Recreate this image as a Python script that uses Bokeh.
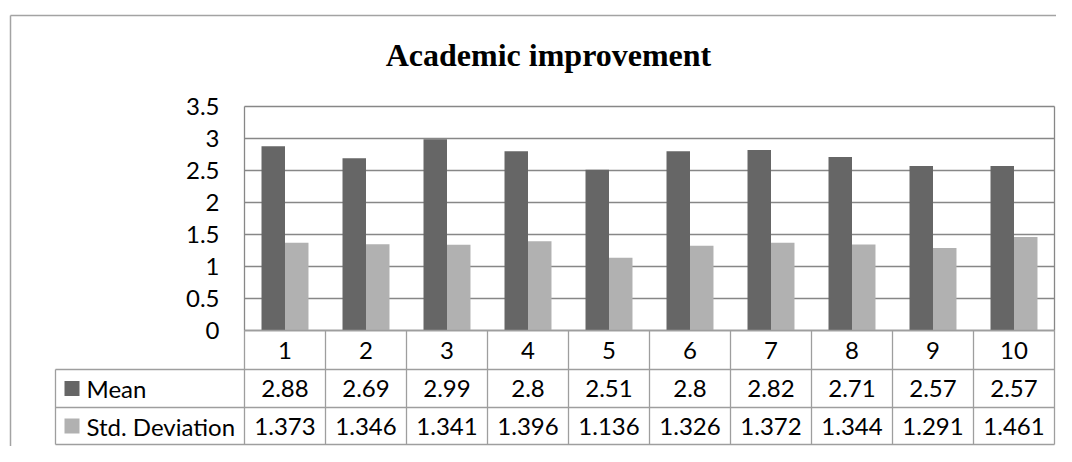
from bokeh.plotting import figure
from bokeh.models import Range1d
from bokeh.embed import file_html
from bokeh.resources import INLINE
from bokeh.core.properties import value

# ---------------- data ----------------
title_text = "Academic improvement"
categories = ["1", "2", "3", "4", "5", "6", "7", "8", "9", "10"]
series_names = ["Mean", "Std. Deviation"]
mean_vals = [2.88, 2.69, 2.99, 2.8, 2.51, 2.8, 2.82, 2.71, 2.57, 2.57]
std_vals = [1.373, 1.346, 1.341, 1.396, 1.136, 1.326, 1.372, 1.344, 1.291, 1.461]
y_ticks = [0, 0.5, 1, 1.5, 2, 2.5, 3, 3.5]
y_tick_labels = ["0", "0.5", "1", "1.5", "2", "2.5", "3", "3.5"]

# ---------------- layout (canvas pixels) ----------------
W, H = 1056, 446
PLOT_L = 244.0      # left edge of plot area
COL_W = 81.0        # category column width
ZERO_Y = 330.0      # pixel row of value 0
PLOT_T = 106.0      # pixel row of the top of the plot area
Y_MAX = 3.5
UNIT = (ZERO_Y - PLOT_T) / Y_MAX
ROW_Y = [330, 369, 407, 444]   # table row boundaries
LEG_L = 55          # left edge of legend column
BORDER_L, BORDER_T = 10, 15

def px2x(px):
    return (px - PLOT_L) / COL_W

def px2y(py):
    return (ZERO_Y - py) / UNIT

FONT = value("Lato")
FS = "24px"
GRID_C = "#878787"
TABLE_C = "#9e9e9e"
MEAN_C = "#666666"
STD_C = "#b1b1b1"

n = len(categories)

p = figure(width=W, height=H, output_backend="svg", toolbar_location=None,
           x_range=Range1d(px2x(0), px2x(W)),
           y_range=Range1d(px2y(H), px2y(0)),
           x_axis_location=None, y_axis_location=None,
           min_border=0, outline_line_color=None,
           background_fill_color="white", border_fill_color="white")
p.grid.visible = False

# outer chart border (left and top visible)
p.line([px2x(BORDER_L), px2x(BORDER_L)], [px2y(H), px2y(BORDER_T)],
       line_color="#a3a3a3", line_width=1.5)
p.line([px2x(BORDER_L), px2x(W)], [px2y(BORDER_T), px2y(BORDER_T)],
       line_color="#a3a3a3", line_width=1.5)

# horizontal gridlines of the plot area
p.segment(x0=[0] * len(y_ticks), x1=[n] * len(y_ticks), y0=y_ticks, y1=y_ticks,
          line_color=GRID_C, line_width=1.3)
# plot area left/right edges
p.segment(x0=[0, n], x1=[0, n], y0=[0, 0], y1=[Y_MAX, Y_MAX],
          line_color=GRID_C, line_width=1.3)

# bars
bw = 0.29
p.vbar(x=[i + 0.5 - bw / 2 for i in range(n)], top=mean_vals, width=bw,
       bottom=0, fill_color=MEAN_C, line_color=None)
p.vbar(x=[i + 0.5 + bw / 2 for i in range(n)], top=std_vals, width=bw,
       bottom=0, fill_color=STD_C, line_color=None)

# y tick labels
p.text(x=[px2x(219)] * len(y_ticks), y=y_ticks, text=y_tick_labels,
       text_align="right", text_baseline="middle", text_font=FONT,
       text_font_size=FS, text_color="black")

# data table lines
ty = [px2y(r) for r in ROW_Y]
p.segment(x0=[0], x1=[n], y0=[ty[0]], y1=[ty[0]], line_color=TABLE_C, line_width=1.3)
p.segment(x0=[px2x(LEG_L)] * 3, x1=[n] * 3, y0=ty[1:], y1=ty[1:],
          line_color=TABLE_C, line_width=1.3)
p.segment(x0=list(range(n + 1)), x1=list(range(n + 1)),
          y0=[ty[0]] * (n + 1), y1=[ty[3]] * (n + 1),
          line_color=TABLE_C, line_width=1.3)
p.segment(x0=[px2x(LEG_L)], x1=[px2x(LEG_L)], y0=[ty[1]], y1=[ty[3]],
          line_color=TABLE_C, line_width=1.3)

# table texts
row_mid = [(ty[k] + ty[k + 1]) / 2 for k in range(3)]
cx = [i + 0.5 for i in range(n)]
p.text(x=cx, y=[row_mid[0]] * n, text=categories, text_align="center",
       text_baseline="middle", text_font=FONT, text_font_size=FS)
p.text(x=cx, y=[row_mid[1]] * n, text=[str(v) for v in mean_vals],
       text_align="center", text_baseline="middle", text_font=FONT, text_font_size=FS)
p.text(x=cx, y=[row_mid[2]] * n, text=[str(v) for v in std_vals],
       text_align="center", text_baseline="middle", text_font=FONT, text_font_size=FS)

# legend keys + names
key_w = 15 / COL_W
key_h = 15 / UNIT
p.rect(x=[px2x(71.5)] * 2, y=row_mid[1:], width=key_w, height=key_h,
       fill_color=[MEAN_C, STD_C], line_color=None)
p.text(x=[px2x(86)] * 2, y=row_mid[1:], text=series_names, text_align="left",
       text_baseline="middle", text_font=FONT, text_font_size=FS)

# title
p.text(x=[px2x(548)], y=[px2y(54)], text=[title_text], text_align="center",
       text_baseline="middle", text_font=value("Liberation Serif"),
       text_font_style="bold", text_font_size="32px")

open("out.html", "w").write(file_html(p, INLINE))
